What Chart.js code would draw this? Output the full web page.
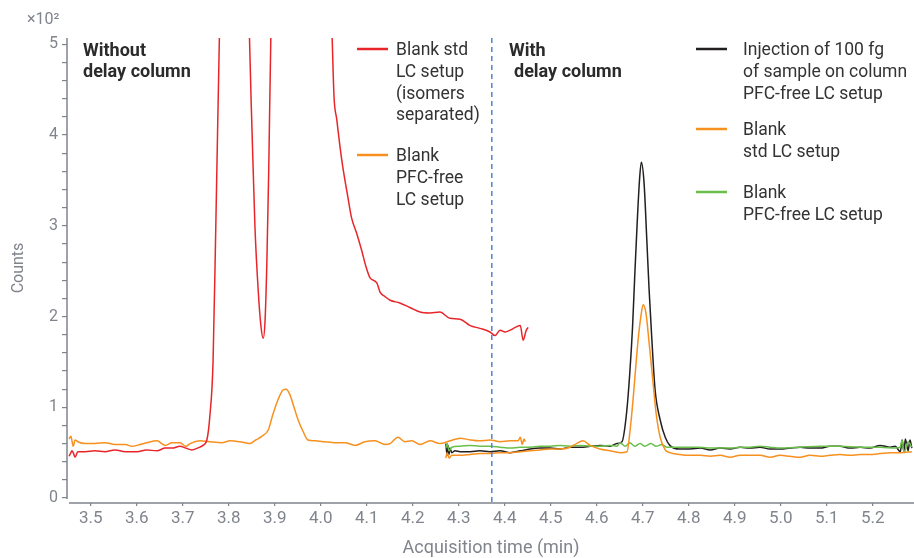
<!DOCTYPE html>
<html>
<head>
<meta charset="utf-8">
<script src="https://cdn.jsdelivr.net/npm/chart.js@4"></script>
<style>
  html, body { margin: 0; padding: 0; background: #fff; }
  #wrap { width: 914px; height: 558px; }
</style>
</head>
<body>
<div id="wrap"><canvas id="chromChart" width="914" height="558"></canvas></div>
<script>
// Acquisition time (min) / Counts (x10^2)
const redTime = [3.453, 3.457, 3.459, 3.462, 3.466, 3.472, 3.488, 3.509, 3.531, 3.553, 3.575, 3.601, 3.622, 3.644, 3.662, 3.677, 3.694, 3.707, 3.720, 3.732, 3.744, 3.753, 3.759, 3.766, 3.772, 3.781, 3.800, 3.835, 3.844, 3.851, 3.857, 3.864, 3.870, 3.875, 3.879, 3.883, 3.887, 3.892, 3.940, 4.024, 4.029, 4.035, 4.042, 4.048, 4.059, 4.067, 4.078, 4.089, 4.099, 4.107, 4.122, 4.129, 4.140, 4.151, 4.172, 4.194, 4.216, 4.238, 4.259, 4.281, 4.303, 4.325, 4.346, 4.368, 4.379, 4.390, 4.401, 4.412, 4.423, 4.434, 4.440, 4.447, 4.451];
const redCounts = [0.46, 0.50, 0.52, 0.50, 0.45, 0.51, 0.51, 0.52, 0.51, 0.53, 0.51, 0.51, 0.53, 0.52, 0.55, 0.55, 0.57, 0.55, 0.53, 0.55, 0.58, 0.65, 0.90, 1.50, 3.00, 5.40, 9.5, 8.0, 5.30, 4.00, 3.00, 2.30, 1.90, 1.76, 1.95, 2.60, 3.60, 5.20, 12.0, 5.20, 4.42, 4.17, 3.87, 3.65, 3.32, 3.09, 2.92, 2.73, 2.54, 2.43, 2.37, 2.27, 2.22, 2.18, 2.15, 2.10, 2.05, 2.04, 2.05, 1.98, 1.97, 1.90, 1.87, 1.83, 1.79, 1.85, 1.83, 1.85, 1.88, 1.90, 1.74, 1.85, 1.88];

const orangeATime = [3.453, 3.457, 3.462, 3.466, 3.472, 3.488, 3.509, 3.531, 3.553, 3.575, 3.590, 3.601, 3.622, 3.644, 3.662, 3.677, 3.694, 3.707, 3.716, 3.738, 3.759, 3.785, 3.803, 3.824, 3.846, 3.859, 3.872, 3.886, 3.896, 3.907, 3.918, 3.925, 3.933, 3.942, 3.951, 3.962, 3.972, 3.988, 4.009, 4.031, 4.053, 4.075, 4.096, 4.118, 4.140, 4.151, 4.168, 4.183, 4.198, 4.216, 4.238, 4.259, 4.281, 4.303, 4.325, 4.346, 4.368, 4.390, 4.412, 4.429, 4.434, 4.438, 4.442, 4.445];
const orangeACounts = [0.65, 0.68, 0.57, 0.64, 0.62, 0.60, 0.60, 0.61, 0.59, 0.59, 0.57, 0.58, 0.61, 0.63, 0.58, 0.61, 0.61, 0.57, 0.60, 0.63, 0.62, 0.61, 0.63, 0.62, 0.60, 0.64, 0.68, 0.75, 0.92, 1.08, 1.19, 1.20, 1.14, 1.00, 0.86, 0.73, 0.64, 0.63, 0.62, 0.61, 0.61, 0.58, 0.62, 0.63, 0.59, 0.60, 0.67, 0.62, 0.63, 0.59, 0.63, 0.60, 0.63, 0.66, 0.64, 0.63, 0.64, 0.62, 0.63, 0.63, 0.67, 0.59, 0.65, 0.62];

const blackTime = [4.272, 4.275, 4.277, 4.279, 4.281, 4.285, 4.292, 4.303, 4.325, 4.346, 4.368, 4.390, 4.412, 4.434, 4.455, 4.477, 4.499, 4.520, 4.542, 4.564, 4.586, 4.607, 4.629, 4.644, 4.655, 4.665, 4.672, 4.678, 4.683, 4.688, 4.693, 4.697, 4.703, 4.709, 4.714, 4.720, 4.727, 4.738, 4.749, 4.759, 4.781, 4.803, 4.825, 4.847, 4.868, 4.890, 4.912, 4.933, 4.955, 4.977, 4.999, 5.020, 5.042, 5.064, 5.086, 5.107, 5.129, 5.151, 5.173, 5.194, 5.216, 5.238, 5.249, 5.260, 5.264, 5.268, 5.271, 5.277, 5.281, 5.285];
const blackCounts = [0.60, 0.47, 0.58, 0.48, 0.55, 0.50, 0.52, 0.51, 0.51, 0.52, 0.51, 0.52, 0.50, 0.52, 0.54, 0.55, 0.55, 0.54, 0.56, 0.56, 0.57, 0.58, 0.57, 0.60, 0.62, 0.94, 1.38, 1.89, 2.48, 3.03, 3.50, 3.70, 3.47, 2.84, 2.29, 1.74, 1.19, 0.86, 0.67, 0.58, 0.54, 0.54, 0.55, 0.53, 0.55, 0.54, 0.56, 0.55, 0.56, 0.54, 0.54, 0.55, 0.56, 0.55, 0.55, 0.57, 0.57, 0.55, 0.56, 0.55, 0.58, 0.56, 0.57, 0.51, 0.64, 0.51, 0.65, 0.52, 0.64, 0.55];

const orangeBTime = [4.272, 4.275, 4.279, 4.285, 4.303, 4.325, 4.346, 4.368, 4.390, 4.412, 4.434, 4.455, 4.477, 4.499, 4.520, 4.542, 4.556, 4.570, 4.586, 4.607, 4.629, 4.651, 4.666, 4.672, 4.679, 4.685, 4.690, 4.696, 4.701, 4.707, 4.714, 4.722, 4.729, 4.738, 4.749, 4.759, 4.781, 4.803, 4.825, 4.847, 4.868, 4.890, 4.912, 4.933, 4.955, 4.977, 4.999, 5.020, 5.042, 5.064, 5.086, 5.107, 5.129, 5.151, 5.173, 5.194, 5.216, 5.238, 5.260, 5.285];
const orangeBCounts = [0.44, 0.50, 0.44, 0.47, 0.47, 0.48, 0.49, 0.49, 0.50, 0.50, 0.51, 0.52, 0.53, 0.54, 0.54, 0.56, 0.60, 0.63, 0.58, 0.54, 0.52, 0.50, 0.51, 0.72, 1.08, 1.45, 1.74, 2.00, 2.13, 2.04, 1.71, 1.30, 0.94, 0.67, 0.53, 0.50, 0.48, 0.47, 0.47, 0.46, 0.47, 0.45, 0.47, 0.47, 0.47, 0.45, 0.47, 0.46, 0.45, 0.47, 0.46, 0.47, 0.48, 0.47, 0.48, 0.48, 0.49, 0.50, 0.50, 0.51];

const greenTime = [4.272, 4.275, 4.279, 4.285, 4.303, 4.325, 4.346, 4.368, 4.390, 4.412, 4.434, 4.455, 4.477, 4.499, 4.520, 4.542, 4.564, 4.586, 4.607, 4.629, 4.644, 4.651, 4.662, 4.672, 4.683, 4.694, 4.705, 4.718, 4.729, 4.742, 4.753, 4.770, 4.803, 4.825, 4.847, 4.868, 4.890, 4.912, 4.933, 4.955, 4.977, 4.999, 5.042, 5.086, 5.129, 5.173, 5.216, 5.249, 5.260, 5.264, 5.268, 5.277, 5.285];
const greenCounts = [0.55, 0.60, 0.52, 0.56, 0.57, 0.58, 0.57, 0.57, 0.56, 0.55, 0.56, 0.56, 0.57, 0.57, 0.58, 0.57, 0.58, 0.57, 0.57, 0.58, 0.57, 0.61, 0.57, 0.61, 0.57, 0.60, 0.57, 0.60, 0.57, 0.59, 0.56, 0.56, 0.56, 0.56, 0.55, 0.55, 0.55, 0.56, 0.56, 0.57, 0.56, 0.55, 0.56, 0.57, 0.57, 0.56, 0.56, 0.55, 0.56, 0.64, 0.50, 0.62, 0.56];

const delaySplit = 4.372;

const gray = '#80848c';
const ink = '#2b2b2b';

function pts(ts, vs) {
    return ts.map((t, i) => ({ x: t, y: vs[i] }));
}

function line(label, ts, vs, color) {
    return {
        label: label,
        data: pts(ts, vs),
        borderColor: color,
        borderWidth: 1.5,
        pointRadius: 0,
        cubicInterpolationMode: 'monotone',
        fill: false
    };
}

// axis lines (detached at the corner), dashed split line, notes and the two hand-placed legends
const notes = {
    id: 'notes',
    beforeDatasetsDraw(chart) {
        const { ctx, chartArea, scales } = chart;
        ctx.save();
        ctx.strokeStyle = gray;
        ctx.lineWidth = 1.5;
        ctx.beginPath();
        ctx.moveTo(chartArea.left, chartArea.top);
        ctx.lineTo(chartArea.left, scales.y.getPixelForValue(0) + 1);
        ctx.moveTo(chartArea.left + 2, chartArea.bottom);
        ctx.lineTo(chartArea.right, chartArea.bottom);
        ctx.stroke();
        ctx.restore();
    },
    afterDatasetsDraw(chart) {
        const { ctx, chartArea, scales } = chart;
        const x = scales.x.getPixelForValue(delaySplit);
        ctx.save();
        ctx.strokeStyle = '#4f82d4';
        ctx.lineWidth = 1.5;
        ctx.setLineDash([5, 4]);
        ctx.beginPath();
        ctx.moveTo(x, chartArea.top);
        ctx.lineTo(x, chartArea.bottom);
        ctx.stroke();
        ctx.restore();
    },
    afterDraw(chart) {
        const ctx = chart.ctx;
        ctx.save();
        ctx.textBaseline = 'middle';

        ctx.fillStyle = gray;
        ctx.font = '16px Roboto';
        ctx.textAlign = 'left';
        ctx.fillText('×10²', 27, 20);
        ctx.textAlign = 'center';
        ctx.font = '18px Roboto';
        ctx.fillText('Acquisition time (min)', 491, 548);
        ctx.font = '16px Roboto';
        ctx.save();
        ctx.translate(19, 268);
        ctx.rotate(-Math.PI / 2);
        ctx.fillText('Counts', 0, 0);
        ctx.restore();

        ctx.textAlign = 'left';
        ctx.fillStyle = ink;
        ctx.font = 'bold 18px Roboto';
        ctx.fillText('Without', 83, 51);
        ctx.fillText('delay column', 83, 72);
        ctx.fillText('With', 509, 51);
        ctx.fillText('delay column', 514, 72);

        const groups = [
            { x: 357, tx: 396, color: '#e8262a', y: 49, lines: ['Blank std', 'LC setup', '(isomers', 'separated)'] },
            { x: 357, tx: 396, color: '#f7901e', y: 155, lines: ['Blank', 'PFC-free', 'LC setup'] },
            { x: 696, tx: 743, color: '#231f20', y: 49, lines: ['Injection of 100 fg', 'of sample on column', 'PFC-free LC setup'] },
            { x: 696, tx: 743, color: '#f7901e', y: 129, lines: ['Blank', 'std LC setup'] },
            { x: 696, tx: 743, color: '#6abf4b', y: 192, lines: ['Blank', 'PFC-free LC setup'] }
        ];
        ctx.font = '17.5px Roboto';
        groups.forEach(g => {
            ctx.strokeStyle = g.color;
            ctx.lineWidth = 2.5;
            ctx.beginPath();
            ctx.moveTo(g.x, g.y);
            ctx.lineTo(g.x + 31, g.y);
            ctx.stroke();
            ctx.fillStyle = '#333';
            g.lines.forEach((s, i) => ctx.fillText(s, g.tx, g.y + 2 + i * 21.7));
        });
        ctx.restore();
    }
};

const chromChart = new Chart(document.getElementById('chromChart'), {
    type: 'line',
    data: {
        datasets: [
            line('Blank std LC setup (isomers separated)', redTime, redCounts, '#e8262a'),
            line('Blank PFC-free LC setup', orangeATime, orangeACounts, '#f7901e'),
            line('Blank std LC setup', orangeBTime, orangeBCounts, '#f7901e'),
            line('Blank PFC-free LC setup', greenTime, greenCounts, '#6abf4b'),
            line('Injection of 100 fg of sample on column PFC-free LC setup', blackTime, blackCounts, '#231f20')
        ]
    },
    options: {
        responsive: false,
        animation: false,
        layout: { padding: { top: 38, right: 0, left: 0, bottom: 0 } },
        plugins: {
            legend: { display: false },
            tooltip: { enabled: false }
        },
        scales: {
            x: {
                type: 'linear',
                min: 3.4485,
                max: 5.2898,
                afterFit: s => { s.height = 55; },
                grid: { display: true, drawOnChartArea: false, drawTicks: true, tickLength: 3, color: gray, lineWidth: 1.2 },
                border: { display: false },
                ticks: {
                    stepSize: 0.1,
                    includeBounds: false,
                    autoSkip: false,
                    maxRotation: 0,
                    padding: 3,
                    color: gray,
                    font: { family: 'Roboto', size: 17 },
                    callback: v => v.toFixed(1)
                }
            },
            y: {
                min: -0.055,
                max: 5.07,
                afterFit: s => { s.width = 67; },
                grid: { display: true, drawOnChartArea: false, drawTicks: true, tickLength: 5, color: gray, lineWidth: 1.2 },
                border: { display: false },
                ticks: {
                    stepSize: 0.2,
                    includeBounds: false,
                    autoSkip: false,
                    padding: 4,
                    color: gray,
                    font: { family: 'Roboto', size: 16 },
                    callback: v => Math.abs(v - Math.round(v)) < 1e-6 ? String(Math.round(v)) : ''
                }
            }
        }
    },
    plugins: [notes]
});
</script>
</body>
</html>
